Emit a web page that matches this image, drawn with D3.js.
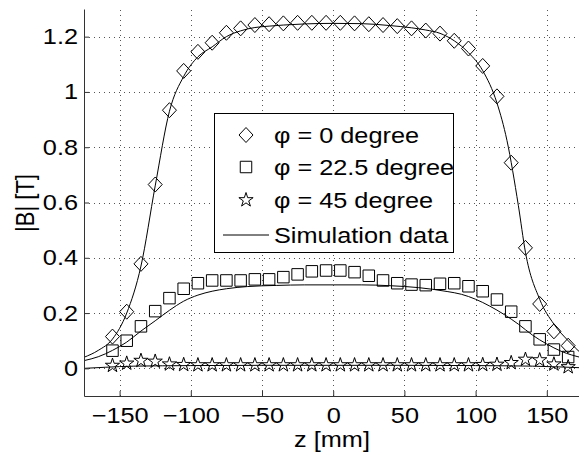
<!DOCTYPE html>
<html>
<head>
<meta charset="utf-8">
<script src="https://cdn.jsdelivr.net/npm/d3@7"></script>
<style>
  body { margin: 0; background: #fff; }
  text { font-family: "Liberation Sans", Arial, sans-serif; }
</style>
</head>
<body>
<script>
 // measured points (z in mm, |B| in T)
 var zMeas = [-155,-145,-135,-125,-115,-105,-95,-85,-75,-65,-55,-45,-35,-25,-15,-5,5,15,25,35,45,55,65,75,85,95,105,115,125,135,145,155,165];
 var phi0 = [0.115,0.205,0.378,0.665,0.934,1.076,1.145,1.178,1.214,1.23,1.242,1.245,1.248,1.25,1.25,1.25,1.25,1.248,1.245,1.242,1.238,1.23,1.222,1.211,1.185,1.157,1.094,0.984,0.744,0.436,0.233,0.134,0.082];
 var phi225 = [0.064,0.1,0.152,0.207,0.254,0.288,0.308,0.318,0.318,0.318,0.322,0.322,0.33,0.34,0.351,0.354,0.354,0.348,0.335,0.318,0.308,0.303,0.301,0.306,0.308,0.297,0.279,0.249,0.205,0.152,0.105,0.068,0.041];
 var phi45 = [0.01,0.018,0.028,0.025,0.015,0.013,0.012,0.012,0.012,0.012,0.012,0.012,0.012,0.012,0.012,0.012,0.012,0.012,0.012,0.012,0.012,0.012,0.012,0.012,0.012,0.012,0.013,0.014,0.02,0.032,0.03,0.015,0.005];

 // simulation curves
 var sim0Z = [-175,-165,-155,-145,-135,-125,-115,-105,-95,-85,-75,-65,-55,-45,-35,-20,0,20,40,55,65,75,85,95,105,115,122,130,135,145,155,165,175];
 var sim0 = [0.04,0.065,0.106,0.2,0.37,0.66,0.93,1.056,1.127,1.163,1.2,1.221,1.233,1.238,1.242,1.246,1.248,1.247,1.24,1.232,1.224,1.212,1.185,1.142,1.077,0.96,0.825,0.59,0.42,0.25,0.16,0.1,0.05];
 var sim225Z = [-175,-165,-155,-145,-135,-125,-115,-105,-95,-85,-75,-60,-40,-20,0,20,40,60,80,90,100,110,120,130,140,150,160,175];
 var sim225 = [0.028,0.042,0.065,0.095,0.135,0.172,0.21,0.243,0.265,0.279,0.288,0.296,0.3,0.302,0.302,0.302,0.299,0.292,0.278,0.268,0.25,0.225,0.195,0.16,0.12,0.088,0.062,0.038];
 var sim45Z = [-175,-160,-140,-100,-50,0,50,100,140,160,175];
 var sim45 = [0.0,0.004,0.008,0.01,0.011,0.011,0.011,0.01,0.008,0.005,0.002];

 var xTicks = [-150,-100,-50,0,50,100,150];
 var yTicks = [0,0.2,0.4,0.6,0.8,1,1.2];
 var legendLabels = ["\u03c6 = 0 degree","\u03c6 = 22.5 degree","\u03c6 = 45 degree","Simulation data"];

 var W = 579, H = 455;
 var margin = {top: 9, left: 84, bottom: 59};
 var stretch = 1.15; // text in the figure is a bit wider than plain Arial
 var svg = d3.select("body").append("svg")
     .attr("width", W)
     .attr("height", H);

 var x = d3.scaleLinear().domain([-175,175]).range([margin.left, 582.4]);
 var y = d3.scaleLinear().domain([-0.1,1.3]).range([H - margin.bottom, margin.top]);

 // grid (dotted)
 var grid = svg.append("g")
     .attr("stroke","#555")
     .attr("stroke-width",1)
     .attr("stroke-dasharray","1,4");
 grid.selectAll(".gx").data(xTicks).enter().append("line")
     .attr("x1", function(d){ return Math.round(x(d))+0.5; })
     .attr("x2", function(d){ return Math.round(x(d))+0.5; })
     .attr("y1", y.range()[0])
     .attr("y2", y.range()[1]);
 grid.selectAll(".gy").data(yTicks).enter().append("line")
     .attr("x1", x.range()[0])
     .attr("x2", x.range()[1])
     .attr("y1", function(d){ return Math.round(y(d))+0.5; })
     .attr("y2", function(d){ return Math.round(y(d))+0.5; });

 // simulation lines
 var line = d3.line()
     .x(function(d){ return x(d[0]); })
     .y(function(d){ return y(d[1]); })
     .curve(d3.curveMonotoneX);
 [[sim0Z,sim0],[sim225Z,sim225],[sim45Z,sim45]].forEach(function(s){
   svg.append("path")
     .datum(d3.zip(s[0], s[1]))
     .attr("d", line)
     .attr("fill","none")
     .attr("stroke","#000")
     .attr("stroke-width",1);
 });

 // marker shapes
 var diamondPath = "M0,-7.5L7,0L0,7.5L-7,0Z";
 var squarePath = d3.symbol().type(d3.symbolSquare).size(132)();
 var starPath = d3.symbol().type(d3.symbolStar).size(63)();

 function drawMarkers(vals, path){
   svg.append("g").selectAll("path")
     .data(d3.zip(zMeas, vals))
     .enter().append("path")
     .attr("d", path)
     .attr("transform", function(d){ return "translate(" + x(d[0]) + "," + y(d[1]) + ")"; })
     .attr("fill","none")
     .attr("stroke","#000")
     .attr("stroke-width",1);
 }
 drawMarkers(phi0, diamondPath);
 drawMarkers(phi225, squarePath);
 drawMarkers(phi45, starPath);

 // axes
 var xAxis = d3.axisBottom(x).tickValues(xTicks).tickSizeInner(-5).tickSizeOuter(0).tickPadding(11);
 var yAxis = d3.axisLeft(y).tickValues(yTicks).tickSizeInner(-5).tickSizeOuter(0).tickPadding(6)
     .tickFormat(function(d){ return String(+d.toFixed(1)); });

 var gx = svg.append("g")
     .attr("transform","translate(0," + (H - margin.bottom) + ")")
     .call(xAxis);
 var gy = svg.append("g")
     .attr("transform","translate(" + margin.left + ",0)")
     .call(yAxis);
 [gx, gy].forEach(function(g){
   g.select(".domain").attr("stroke","#333");
   g.selectAll(".tick line").attr("stroke","#333");
   g.selectAll(".tick text")
     .attr("fill","#000")
     .attr("transform","scale(" + stretch + ",1)")
     .style("font-size","22px")
     .style("font-family","'Liberation Sans', Arial, sans-serif");
 });
 gy.selectAll(".tick text").attr("x", -6 / stretch);

 // axis labels
 svg.append("text")
     .attr("transform","translate(332,447) scale(" + stretch + ",1)")
     .attr("text-anchor","middle")
     .style("font-size","22px")
     .text("z [mm]");
 svg.append("text")
     .attr("transform","translate(25,203) scale(" + stretch + ",1) rotate(-90)")
     .attr("text-anchor","middle")
     .attr("dy","0.35em")
     .style("font-size","22px")
     .text("|B| [T]");

 // legend
 var lg = svg.append("g").attr("transform","translate(214,113)");
 lg.append("rect")
     .attr("x",0.5).attr("y",0.5)
     .attr("width",239).attr("height",139)
     .attr("fill","#fff")
     .attr("stroke","#000");
 var rowY = [22, 54, 87, 122];
 var shapes = [diamondPath, squarePath, starPath, null];
 legendLabels.forEach(function(lbl, i){
   if (shapes[i]) {
     lg.append("path")
       .attr("d", shapes[i])
       .attr("transform","translate(32," + rowY[i] + ")")
       .attr("fill","none")
       .attr("stroke","#000");
   } else {
     lg.append("line")
       .attr("x1",9).attr("x2",55)
       .attr("y1",rowY[i]).attr("y2",rowY[i])
       .attr("stroke","#000");
   }
   lg.append("text")
     .attr("transform","translate(60," + rowY[i] + ") scale(" + stretch + ",1)")
     .attr("dy","0.36em")
     .style("font-size","22px")
     .text(lbl);
 });
</script>
</body>
</html>
